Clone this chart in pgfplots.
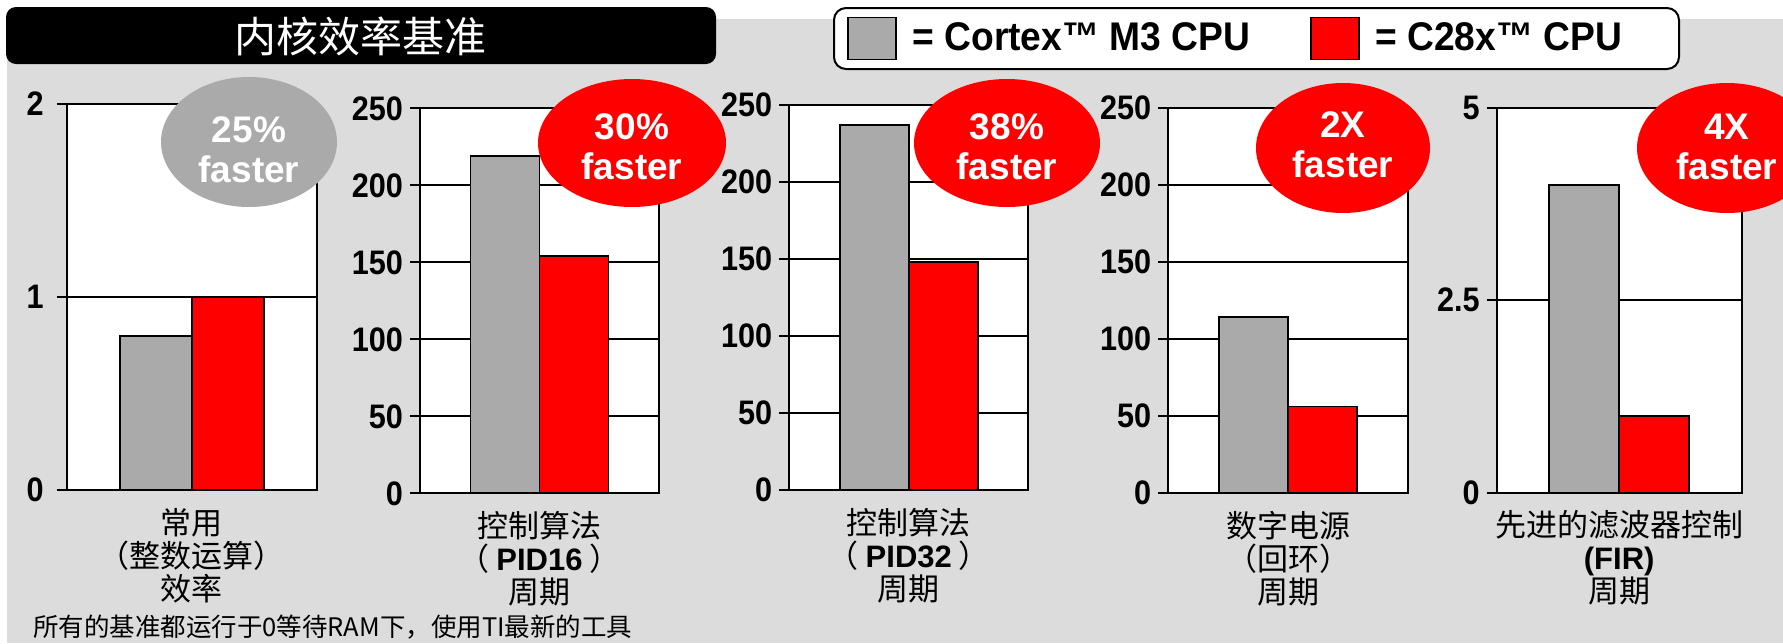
\documentclass[border=0pt]{standalone}
\usepackage{fontspec}
\setmainfont{Liberation Sans}
\newfontfamily\cjk{Noto Sans CJK SC}
\newfontfamily\cond[FakeStretch=0.9]{Liberation Sans}
\newfontfamily\condl[FakeStretch=0.93]{Liberation Sans}
\usepackage{pgfplots}
\pgfplotsset{compat=1.18}

\definecolor{bg}{HTML}{DCDCDC}
\definecolor{bargray}{HTML}{AAAAAA}
\definecolor{barred}{HTML}{FF0000}

\pgfplotsset{
  panel/.style={
    scale only axis, anchor=south west,
    ybar=0pt, bar width=34.5pt,
    xmin=-1, xmax=1, xtick=\empty, ymin=0,
    axis background/.style={fill=white},
    axis line style={black, line width=1.1pt},
    ymajorgrids, grid style={black, line width=0.85pt},
    tick align=outside, ytick pos=left, major tick length=5pt,
    ytick style={black, line width=0.85pt},
    /pgf/number format/assume math mode=true,
    yticklabel style={font=\cond\bfseries\fontsize{17}{17}\selectfont, black},
    xlabel style={font=\cjk\fontsize{15.5}{16.5}\selectfont, align=center,
      at={(axis description cs:0.5,0)}, anchor=north, yshift=-5.5pt},
    clip=false,
  },
  gbar/.style={fill=bargray, draw=black, line width=0.9pt},
  rbar/.style={fill=barred, draw=black, line width=0.9pt},
  sqlegend/.style={legend image code/.code={\draw[##1] (0pt,-10.5pt) rectangle (24pt,10.5pt);}},
}

\begin{document}
\begin{tikzpicture}
\useasboundingbox (0pt,0pt) rectangle (891.5pt,-321.5pt);
% ---------- background decorations (1 unit = 1 reference pixel) ----------
\begin{scope}[x=0.5pt, y=-0.5pt]
  \fill[white] (0,0) rectangle (1783,643);
  \fill[bg] (7,19) rectangle (1783,643);
  \fill[black, rounded corners=5pt] (6,7) rectangle (716,64);
  \node[white, font=\cjk\fontsize{21}{21}\selectfont] at (360,36) {内核效率基准};
  \draw[black, line width=1pt, fill=white, rounded corners=6pt] (834,8) rectangle (1679,69);
  \node[anchor=west, font=\cjk\fontsize{12.75}{12.75}\selectfont] at (26,627)
    {所有的基准都运行于0等待RAM下，使用TI最新的工具};
\end{scope}

% ---------- panel 1 ----------
\begin{axis}[panel, at={(33.35pt,-245pt)}, width=125pt, height=193pt,
  bar width=36pt, ymax=2, ytick={0,1,2},
  yticklabel style={xshift=-3pt},
  xlabel={常用\\（整数运算）\\效率},
  legend columns=2,
  legend style={draw=none, fill=none, inner sep=0pt,
    font=\condl\bfseries\fontsize{20}{20}\selectfont,
    nodes={inner xsep=3.75pt, inner ysep=0pt},
    /tikz/every even column/.append style={column sep=26pt},
    at={(axis description cs:3.12,1.1697)}, anchor=west},
  ]
  \addplot[gbar, sqlegend] coordinates {(0,0.8)};
  \addlegendentry{\hspace{4pt}= Cortex™ M3 CPU}
  \addplot[rbar, sqlegend] coordinates {(0,1.0)};
  \addlegendentry{\hspace{4pt}= C28x™ CPU}
\end{axis}

% ---------- panel 2 ----------
\begin{axis}[panel, at={(210pt,-246.65pt)}, width=119.5pt, height=192.5pt,
  ymax=250, ytick={0,50,...,250},
  xlabel={控制算法\\（ {\rmfamily\bfseries PID16} ）\\周期}]
  \addplot[gbar] coordinates {(0,219)};
  \addplot[rbar] coordinates {(0,154)};
\end{axis}

% ---------- panel 3 ----------
\begin{axis}[panel, at={(394.65pt,-245pt)}, width=119.5pt, height=192.5pt,
  ymax=250, ytick={0,50,...,250},
  xlabel={控制算法\\（ {\rmfamily\bfseries PID32} ）\\周期}]
  \addplot[gbar] coordinates {(0,237)};
  \addplot[rbar] coordinates {(0,148)};
\end{axis}

% ---------- panel 4 ----------
\begin{axis}[panel, at={(584.15pt,-246.35pt)}, width=119.7pt, height=192.5pt,
  ymax=250, ytick={0,50,...,250},
  xlabel={数字电源\\（回环）\\周期}]
  \addplot[gbar] coordinates {(0,114)};
  \addplot[rbar] coordinates {(0,56)};
\end{axis}

% ---------- panel 5 ----------
\begin{axis}[panel, at={(748.35pt,-246.35pt)}, width=122.5pt, height=192.5pt,
  bar width=35pt, ymax=5, ytick={0,2.5,5},
  xlabel={先进的滤波器控制\\{\rmfamily\bfseries (FIR)}\\周期}]
  \addplot[gbar] coordinates {(0,4.0)};
  \addplot[rbar] coordinates {(0,1.0)};
\end{axis}

% ---------- speed-up bubbles ----------
\begin{scope}[x=0.5pt, y=-0.5pt]
  \fill[bargray] (249,142) ellipse [x radius=88, y radius=65];
  \fill[barred]  (632,143) ellipse [x radius=94, y radius=64];
  \fill[barred]  (1007,143) ellipse [x radius=93, y radius=64];
  \fill[barred]  (1343,148) ellipse [x radius=87, y radius=65];
  \fill[barred]  (1727,148) ellipse [x radius=90, y radius=65];
  \tikzset{bub/.style={white, align=center, font=\bfseries\fontsize{18.5}{20}\selectfont}}
  \node[bub] at (249,150) {25\%\\faster};
  \node[bub] at (632,147) {30\%\\faster};
  \node[bub] at (1007,147) {38\%\\faster};
  \node[bub] at (1343,145) {2X\\faster};
  \node[bub] at (1727,147) {4X\\faster};
\end{scope}
\end{tikzpicture}
\end{document}
